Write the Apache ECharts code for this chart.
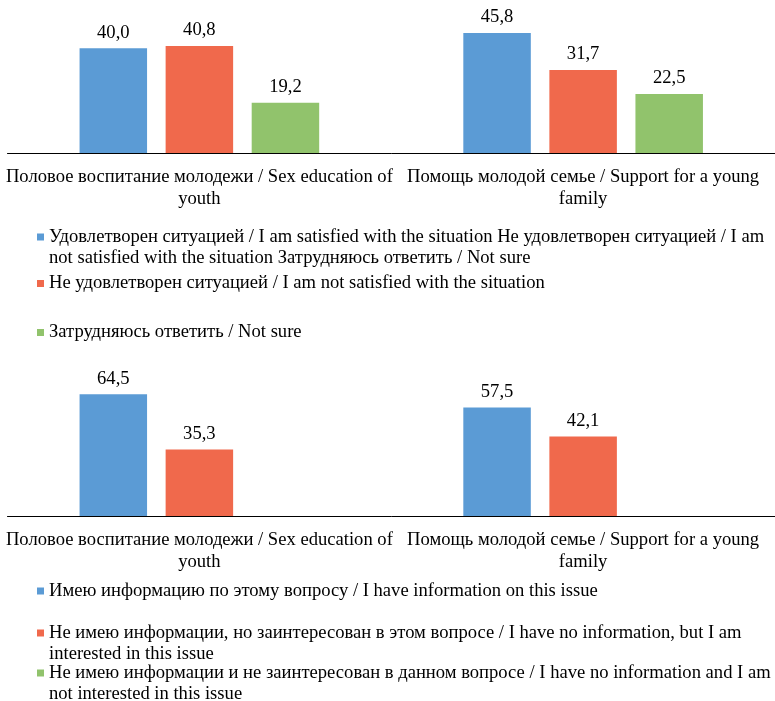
<!DOCTYPE html>
<html>
<head>
<meta charset="utf-8">
<script src="https://cdn.jsdelivr.net/npm/echarts@6/dist/echarts.min.js"></script>
<style>
html,body{margin:0;padding:0;background:#fff;}
#chart{width:775px;height:701px;}
</style>
</head>
<body>
<div id="chart"></div>
<script>
const categories = [
  'Половое воспитание молодежи / Sex education of\nyouth',
  'Помощь молодой семье / Support for a young\nfamily'
];

// Chart 1
const satisfied = [40.0, 45.8];
const notSatisfied = [40.8, 31.7];
const notSure = [19.2, 22.5];
const names1 = [
  'Удовлетворен ситуацией / I am satisfied with the situation',
  'Не удовлетворен ситуацией / I am not satisfied with the situation',
  'Затрудняюсь ответить / Not sure'
];
const legendText1 = [
  'Удовлетворен ситуацией / I am satisfied with the situation Не удовлетворен ситуацией / I am\nnot satisfied with the situation Затрудняюсь ответить / Not sure',
  'Не удовлетворен ситуацией / I am not satisfied with the situation',
  'Затрудняюсь ответить / Not sure'
];

// Chart 2
const haveInfo = [64.5, 57.5];
const noInfoInterested = [35.3, 42.1];
const noInfoNotInterested = [null, null];
const names2 = [
  'Имею информацию по этому вопросу / I have information on this issue',
  'Не имею информации, но заинтересован в этом вопросе / I have no information, but I am interested in this issue',
  'Не имею информации и не заинтересован в данном вопросе / I have no information and I am not interested in this issue'
];
const legendText2 = [
  'Имею информацию по этому вопросу / I have information on this issue',
  'Не имею информации, но заинтересован в этом вопросе / I have no information, but I am\ninterested in this issue',
  'Не имею информации и не заинтересован в данном вопросе / I have no information and I am\nnot interested in this issue'
];

const colors = ['#5B9BD5', '#F0694C', '#91C36C'];
const FONT = 'Liberation Serif';
const FS = 18.6;
const LH = 21;

const allNames = names1.concat(names2);
const allText = legendText1.concat(legendText2);
function legendFmt(n) {
  const i = allNames.indexOf(n);
  const t = i >= 0 ? allText[i] : n;
  // a leading blank line keeps the marker level with the first text line
  return t.indexOf('\n') >= 0 ? ' \n' + t : t;
}

function makeLegend(name, centerY, twoLine) {
  return {
    data: [name],
    left: 37,
    top: twoLine ? centerY - LH * 1.5 : centerY - LH / 2,
    padding: 0,
    itemWidth: 7,
    itemHeight: 7,
    icon: 'rect',
    selectedMode: false,
    formatter: legendFmt,
    textStyle: { fontFamily: FONT, fontSize: FS, color: '#000', lineHeight: LH }
  };
}

function xAxis(gi) {
  return {
    type: 'category', gridIndex: gi, data: categories,
    axisTick: { show: false },
    axisLine: { lineStyle: { color: '#000', width: 1 } },
    axisLabel: { interval: 0, margin: 13, fontFamily: FONT, fontSize: FS, color: '#000', lineHeight: 22 }
  };
}
function yAxis(gi, max) {
  return { type: 'value', gridIndex: gi, min: 0, max: max, show: false, splitLine: { show: false } };
}
const label = {
  show: true, position: 'top', distance: 6,
  fontFamily: FONT, fontSize: FS, color: '#000',
  formatter: p => p.value == null ? '' : p.value.toFixed(1).replace('.', ',')
};
function bar(name, data, ci, gi) {
  return {
    type: 'bar', name: name, data: data, xAxisIndex: gi, yAxisIndex: gi,
    barWidth: 67.5, barGap: '27.5%',
    itemStyle: { color: colors[ci] },
    label: label,
    emphasis: { disabled: true }
  };
}

const option = {
  animation: false,
  backgroundColor: '#fff',
  grid: [
    { left: 7.5, width: 774, top: 22, height: 131 },
    { left: 7.5, width: 774, top: 384, height: 132 }
  ],
  xAxis: [xAxis(0), xAxis(1)],
  yAxis: [yAxis(0, 50), yAxis(1, 70)],
  legend: [
    makeLegend(names1[0], 237, true),
    makeLegend(names1[1], 283.5, false),
    makeLegend(names1[2], 332.5, false),
    makeLegend(names2[0], 591, false),
    makeLegend(names2[1], 633, true),
    makeLegend(names2[2], 673, true)
  ],
  series: [
    bar(names1[0], satisfied, 0, 0),
    bar(names1[1], notSatisfied, 1, 0),
    bar(names1[2], notSure, 2, 0),
    bar(names2[0], haveInfo, 0, 1),
    bar(names2[1], noInfoInterested, 1, 1),
    bar(names2[2], noInfoNotInterested, 2, 1)
  ]
};
const chart = echarts.init(document.getElementById('chart'), null, { renderer: 'canvas' });
chart.setOption(option);
</script>
</body>
</html>
